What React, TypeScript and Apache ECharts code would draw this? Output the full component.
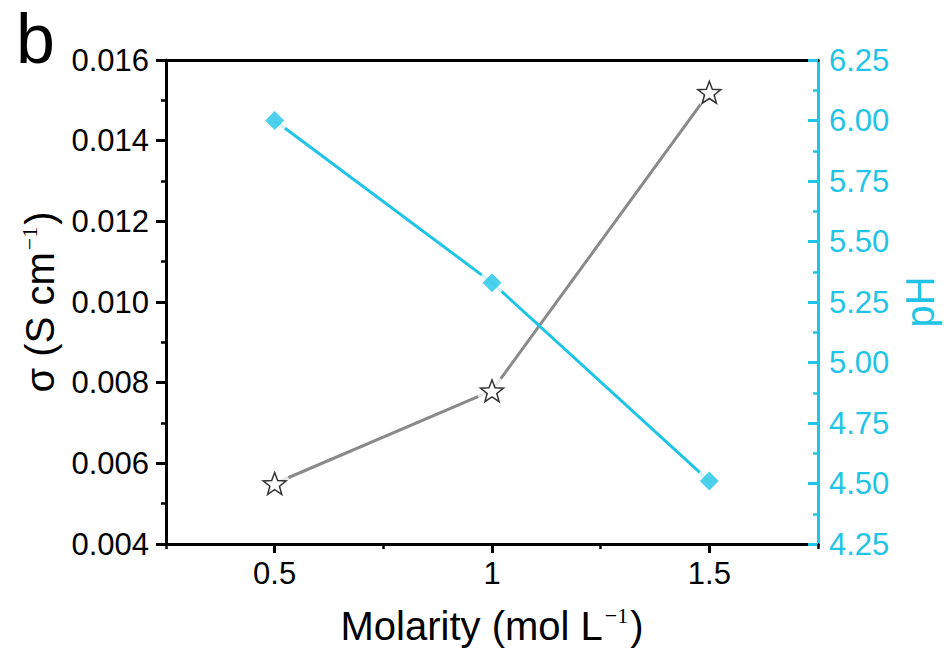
import React, { useEffect, useRef } from "react";
import * as echarts from "echarts";

const molarity = [0.5, 1, 1.5];
const sigma = [0.0055, 0.0078, 0.0152];
const pH = [6.0, 5.33, 4.51];
const xMajorTicks = [0.5, 1, 1.5];
const xMinorTicks = [0.25, 0.75, 1.25, 1.75];

const FONT = '"Liberation Sans", Arial, sans-serif';
const CYAN = "#1FC4E6";
const GRAY = "#8a8a8a";
const STAR =
  "path://M50,0L62.3,33.1L97.55,34.55L69.9,56.5L79.39,90.45L50,71L20.61,90.45L30.1,56.5L2.45,34.55L37.7,33.1Z";

export default function App() {
  const ref = useRef<HTMLDivElement>(null);
  useEffect(() => {
    if (!ref.current) return;
    const chart = echarts.init(ref.current, null, { renderer: "svg" });
    const sigmaData = molarity.map((x, i) => [x, sigma[i]]);
    const pHData = molarity.map((x, i) => [x, pH[i]]);
    chart.setOption({
      animation: false,
      textStyle: { fontFamily: FONT },
      grid: {
        left: 166,
        right: 128,
        top: 60,
        bottom: 107,
        show: false,
        containLabel: false,
        outerBoundsMode: "none",
      },
      graphic: [
        {
          type: "text",
          x: 16,
          y: 39,
          style: {
            text: "b",
            fontSize: 70,
            fontFamily: FONT,
            fill: "#000",
            verticalAlign: "middle",
            align: "left",
          },
        },
      ],
      xAxis: [
        {
          type: "value",
          min: 0.25,
          max: 1.75,
          interval: 0.25,
          position: "bottom",
          axisLine: { show: true, onZero: false, lineStyle: { color: "#000", width: 3 } },
          axisTick: { show: true, customValues: xMajorTicks, length: 9, lineStyle: { width: 3, color: "#000" } },
          axisLabel: {
            customValues: xMajorTicks,
            formatter: (v: number) => String(v),
            fontSize: 31,
            color: "#000",
            margin: 14,
            fontFamily: FONT,
          },
          splitLine: { show: false },
          name: "{a|Molarity (mol L}{s|−1}{a|)}",
          nameLocation: "middle",
          nameGap: 60,
          nameTextStyle: {
            rich: {
              a: { fontSize: 40, fontFamily: FONT, color: "#000" },
              s: { fontSize: 22, fontFamily: '"Liberation Serif", serif', color: "#000", padding: [0, 2, 22, 2] },
            },
          },
        },
        {
          type: "value",
          min: 0.25,
          max: 1.75,
          interval: 0.25,
          position: "bottom",
          axisLine: { show: false },
          axisTick: { show: true, customValues: xMinorTicks, length: 5, lineStyle: { width: 2.5, color: "#000" } },
          axisLabel: { show: false },
          splitLine: { show: false },
        },
        {
          type: "value",
          min: 0.25,
          max: 1.75,
          position: "top",
          axisLine: { show: true, onZero: false, lineStyle: { color: "#000", width: 3 } },
          axisTick: { show: false },
          axisLabel: { show: false },
          splitLine: { show: false },
        },
      ],
      yAxis: [
        {
          type: "value",
          min: 0.004,
          max: 0.016,
          interval: 0.002,
          position: "left",
          axisLine: { show: true, onZero: false, lineStyle: { color: "#000", width: 3 } },
          axisTick: { show: true, length: 10, lineStyle: { width: 3, color: "#000" } },
          minorTick: { show: true, splitNumber: 2, length: 5, lineStyle: { width: 2.5, color: "#000" } },
          axisLabel: {
            formatter: (v: number) => v.toFixed(3),
            fontSize: 31,
            color: "#000",
            margin: 17,
            fontFamily: FONT,
          },
          splitLine: { show: false },
          name: "{a|σ (S cm}{s|−1}{a|)}",
          nameLocation: "middle",
          nameRotate: 90,
          nameGap: 104,
          nameTextStyle: {
            rich: {
              a: { fontSize: 40, fontFamily: FONT, color: "#000" },
              s: { fontSize: 22, fontFamily: '"Liberation Serif", serif', color: "#000", padding: [0, 2, 22, 2] },
            },
          },
        },
        {
          type: "value",
          min: 4.25,
          max: 6.25,
          interval: 0.25,
          position: "right",
          axisLine: { show: true, onZero: false, lineStyle: { color: CYAN, width: 3 } },
          axisTick: { show: true, inside: true, length: 10, lineStyle: { width: 3, color: CYAN } },
          minorTick: { show: true, splitNumber: 2, length: 5, lineStyle: { width: 2.5, color: CYAN } },
          axisLabel: {
            formatter: (v: number) => v.toFixed(2),
            fontSize: 31,
            color: CYAN,
            margin: 11,
            fontFamily: FONT,
          },
          splitLine: { show: false },
          name: "pH",
          nameLocation: "middle",
          nameRotate: 90,
          nameGap: 75,
          nameTextStyle: { fontSize: 40, color: CYAN, fontFamily: FONT },
        },
      ],
      series: [
        {
          type: "line",
          data: sigmaData,
          xAxisIndex: 0,
          yAxisIndex: 0,
          symbol: "none",
          lineStyle: { color: GRAY, width: 3 },
          z: 2,
        },
        {
          type: "line",
          data: pHData,
          xAxisIndex: 0,
          yAxisIndex: 1,
          symbol: "none",
          lineStyle: { color: CYAN, width: 3 },
          z: 2,
        },
        {
          type: "scatter",
          data: sigmaData,
          xAxisIndex: 0,
          yAxisIndex: 0,
          symbol: "circle",
          symbolSize: 30,
          itemStyle: { color: "#fff" },
          silent: true,
          z: 3,
        },
        {
          type: "scatter",
          data: pHData,
          xAxisIndex: 0,
          yAxisIndex: 1,
          symbol: "circle",
          symbolSize: 26,
          itemStyle: { color: "#fff" },
          silent: true,
          z: 3,
        },
        {
          type: "scatter",
          data: sigmaData,
          xAxisIndex: 0,
          yAxisIndex: 0,
          symbol: STAR,
          symbolKeepAspect: true,
          symbolSize: 23,
          itemStyle: { color: "#fff", borderColor: "#000", borderWidth: 1.5 },
          z: 4,
        },
        {
          type: "scatter",
          data: pHData,
          xAxisIndex: 0,
          yAxisIndex: 1,
          symbol: "diamond",
          symbolSize: 19,
          itemStyle: { color: CYAN },
          z: 4,
        },
      ],
    });
    return () => chart.dispose();
  }, []);
  return (
    <div
      ref={ref}
      style={{ position: "absolute", left: 0, top: 0, width: 946, height: 651 }}
    />
  );
}
